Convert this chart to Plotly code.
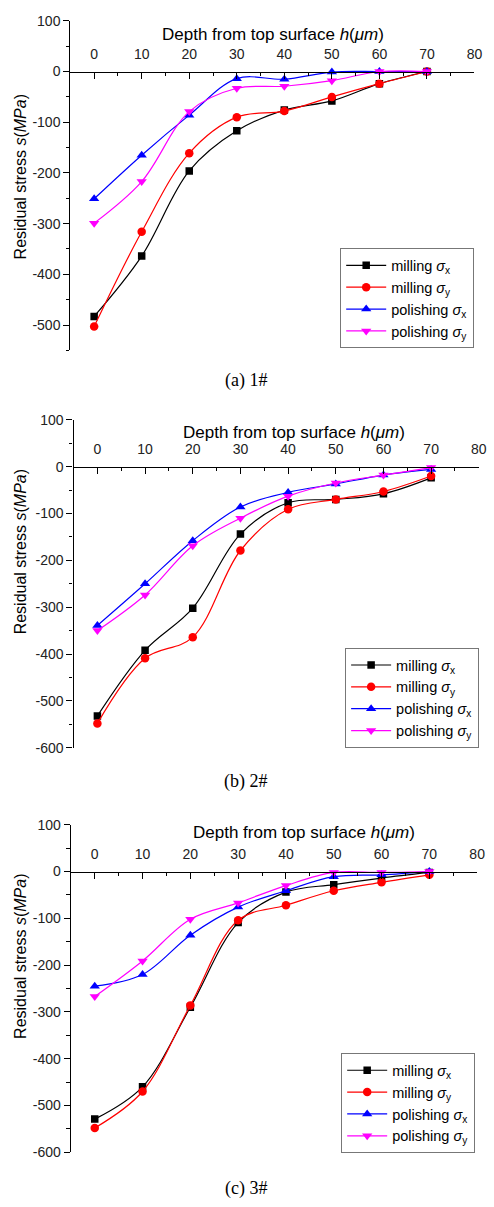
import plotly.graph_objects as go

W, H = 494, 1207

depth = [0, 10, 20, 30, 40, 50, 60, 70]

# Panel (a) 1#
a_mill_x = [-483, -364, -196, -117, -76, -58, -24, 0]
a_mill_y = [-503, -316, -161, -90, -78, -50, -24, 0]
a_pol_x = [-251, -165, -86, -14, -15, -1, 0, 0]
a_pol_y = [-299, -217, -79, -33, -29, -18, 0, 0]

# Panel (b) 2#
b_mill_x = [-532, -392, -302, -144, -77, -70, -58, -24]
b_mill_y = [-548, -409, -364, -179, -91, -70, -53, -20]
b_pol_x = [-339, -250, -158, -86, -55, -37, -18, -6]
b_pol_y = [-350, -274, -169, -110, -63, -35, -18, -2]

# Panel (c) 3#
c_mill_x = [-529, -460, -290, -109, -44, -28, -14, -2]
c_mill_y = [-548, -470, -286, -104, -72, -41, -23, -7]
c_pol_x = [-245, -220, -136, -76, -41, -11, -7, 0]
c_pol_y = [-267, -191, -102, -67, -30, -2, -2, 0]

x_tick_vals = [0, 10, 20, 30, 40, 50, 60, 70, 80]
x_tick_text = ["0", "10", "20", "30", "40", "50", "60", "70", "80"]
y_tick_vals = [100, 0, -100, -200, -300, -400, -500, -600]
y_tick_text = ["100", "0", "-100", "-200", "-300", "-400", "-500", "-600"]

captions = ["(a) 1#", "(b) 2#", "(c) 3#"]
series_names = ["milling <i>σ</i><sub>x</sub>", "milling <i>σ</i><sub>y</sub>",
                "polishing <i>σ</i><sub>x</sub>", "polishing <i>σ</i><sub>y</sub>"]
colors = ["#000000", "#FF0000", "#0000FF", "#FF00FF"]
symbols = ["square", "circle", "triangle-up", "triangle-down"]
msizes = [7.5, 8.5, 9, 9]

panels = [
    dict(data=[a_mill_x, a_mill_y, a_pol_x, a_pol_y], yr=[-550, 100],
         ytop=13, ybot=347, x0=95.7, x80=482.3, ytitle_c=171, xtitle=(277, 27), cap_y=377,
         leg=(482, 345)),
    dict(data=[b_mill_x, b_mill_y, b_pol_x, b_pol_y], yr=[-600, 100],
         ytop=417.3, ybot=749.7, x0=99.0, x80=486.7, ytitle_c=551, xtitle=(299, 430), cap_y=784,
         leg=(487, 750)),
    dict(data=[c_mill_x, c_mill_y, c_pol_x, c_pol_y], yr=[-600, 100],
         ytop=827.7, ybot=1159.7, x0=96.3, x80=485.0, ytitle_c=961, xtitle=(309, 836), cap_y=1196,
         leg=(483, 1160.7)),
]

fig = go.Figure()
annotations = []
FONT = "Liberation Sans"
SERIF = "Liberation Serif"

for i, p in enumerate(panels):
    k = "" if i == 0 else str(i + 1)
    xa, ya = "xaxis" + k, "yaxis" + k
    leg = "legend" + k
    xmin, xmax = -5, 80
    ppu = (p["x80"] - p["x0"]) / 80.0
    left_px = p["x0"] + xmin * ppu
    xdom = [left_px / W, p["x80"] / W]
    ydom = [1 - p["ybot"] / H, 1 - p["ytop"] / H]
    ymin, ymax = p["yr"]
    zero_pos = ydom[0] + (0 - ymin) / (ymax - ymin) * (ydom[1] - ydom[0])

    for j in range(4):
        fig.add_trace(go.Scatter(
            x=depth, y=p["data"][j], mode="lines+markers",
            name=series_names[j],
            line=dict(color=colors[j], width=1.2, shape="spline", smoothing=1.0),
            marker=dict(symbol=symbols[j], size=msizes[j], color=colors[j]),
            xaxis="x" + k, yaxis="y" + k, legend=leg, showlegend=True,
        ))

    yv = [v for v in y_tick_vals if ymin <= v <= ymax]
    yt = [t for v, t in zip(y_tick_vals, y_tick_text) if ymin <= v <= ymax]

    fig.update_layout(**{
        xa: dict(domain=xdom, range=[xmin, xmax], anchor="free", position=zero_pos,
                 side="top", showgrid=False, zeroline=False, showline=True,
                 linecolor="black", linewidth=1.3, ticks="inside", ticklen=6,
                 tickwidth=1.3, tickcolor="black", tickmode="array",
                 tickvals=x_tick_vals, ticktext=x_tick_text,
                 tickfont=dict(family=FONT, size=14, color="#222"),
                 ticklabelstandoff=7,
                 minor=dict(dtick=5, tick0=0, ticks="inside", ticklen=3.5,
                            tickwidth=1.2, tickcolor="black", showgrid=False)),
        ya: dict(domain=ydom, range=p["yr"], anchor="x" + k, showgrid=False,
                 zeroline=False, showline=True, linecolor="black", linewidth=1.3,
                 ticks="outside", ticklen=6, tickwidth=1.3, tickcolor="black",
                 tickmode="array", tickvals=yv, ticktext=yt,
                 tickfont=dict(family=FONT, size=14, color="#222"),
                 minor=dict(dtick=50, tick0=0, ticks="outside", ticklen=3.5,
                            tickwidth=1.2, tickcolor="black", showgrid=False)),
        leg: dict(x=p["leg"][0] / W, y=1 - p["leg"][1] / H, xanchor="right",
                  yanchor="bottom", bgcolor="white", bordercolor="#777",
                  borderwidth=1, font=dict(family=FONT, size=14.5, color="black"),
                  itemwidth=40, tracegroupgap=0),
    })

    annotations.append(dict(
        text="Residual stress <i>s</i>(<i>MPa</i>)", textangle=-90,
        x=21 / W, y=1 - p["ytitle_c"] / H, xref="paper", yref="paper",
        xanchor="center", yanchor="middle", showarrow=False,
        font=dict(family=FONT, size=16, color="black")))
    annotations.append(dict(
        text="Depth from top surface <i>h</i>(<i>μm</i>)",
        x=p["xtitle"][0] / W, y=1 - p["xtitle"][1] / H, xref="paper", yref="paper",
        xanchor="center", yanchor="middle", showarrow=False,
        font=dict(family=FONT, size=17, color="black")))
    annotations.append(dict(
        text=captions[i], x=250 / W, y=1 - p["cap_y"] / H, xref="paper", yref="paper",
        xanchor="center", yanchor="middle", showarrow=False,
        font=dict(family=SERIF, size=18, color="black")))

fig.update_layout(
    width=W, height=H, margin=dict(l=0, r=0, t=0, b=0),
    paper_bgcolor="white", plot_bgcolor="white",
    annotations=annotations, showlegend=True,
)

fig.write_html("out.html")
